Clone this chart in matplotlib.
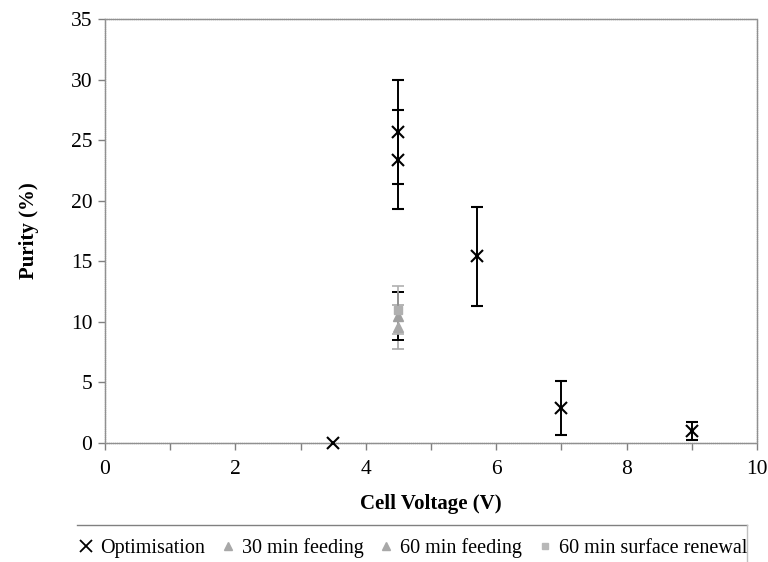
import numpy as np
import matplotlib
matplotlib.use('Agg')
import matplotlib.pyplot as plt
from matplotlib.lines import Line2D
from matplotlib.ticker import MultipleLocator

# data (nan = no error bar shown)
opt_v = [3.5, 4.5, 4.5, 5.7, 7.0, 9.0]
opt_p = [0.0, 25.7, 23.4, 15.4, 2.9, 1.0]
opt_err = [np.nan, 4.3, 4.1, 4.1, 2.25, 0.75]

feed30_v = [4.5]
feed30_p = [9.6]
feed30_err = [1.8]

feed60_v = [4.5]
feed60_p = [10.5]
feed60_err = [2.0]

renew60_v = [4.5]
renew60_p = [11.0]
renew60_err = [2.0]

plt.rcParams['font.family'] = ['Liberation Serif', 'DejaVu Serif']

fig = plt.figure(figsize=(7.68, 5.62), dpi=100)
ax = fig.add_axes([105/768, 1-443/562, (757-105)/768, (443-19)/562])

# grey series first so the optimisation crosses sit on top
ax.errorbar(feed30_v, feed30_p, yerr=feed30_err, fmt='^', color='#a8a8a8',
            ms=7, ecolor='#a8a8a8', elinewidth=1.2, capsize=4, capthick=1.2, zorder=3)
ax.errorbar(feed60_v, feed60_p, yerr=feed60_err, fmt='^', color='#a0a0a0',
            ms=7, ecolor='black', elinewidth=1.4, capsize=4.5, capthick=1.4, zorder=3)
ax.errorbar(renew60_v, renew60_p, yerr=renew60_err, fmt='s', color='#b0b0b0',
            ms=6, ecolor='#b0b0b0', elinewidth=1.2, capsize=4, capthick=1.2, zorder=3)
ax.errorbar(opt_v, opt_p, yerr=opt_err, fmt='x', color='black', ms=9, mew=1.5,
            ecolor='black', elinewidth=1.4, capsize=4.5, capthick=1.4, zorder=4,
            clip_on=False)

ax.set_xlim(0, 10)
ax.set_ylim(0, 35)
ax.xaxis.set_major_locator(MultipleLocator(2))
ax.xaxis.set_minor_locator(MultipleLocator(1))
ax.yaxis.set_major_locator(MultipleLocator(5))
ax.tick_params(axis='both', which='both', direction='out', color='#808080',
               length=5, width=1, labelsize=15.5, pad=4)
ax.tick_params(axis='x', pad=7)
for s in ax.spines.values():
    s.set_color('#909090')
    s.set_linewidth(1)
    s.set_linestyle((0, (1, 0.5)))

ax.set_xlabel('Cell Voltage (V)', fontsize=15, fontweight='bold', labelpad=11)
ax.set_ylabel('Purity (%)', fontsize=15, fontweight='bold', labelpad=23)

# legend box (clipped at the bottom like the original)
fig.add_artist(Line2D([77/768, 747/768], [1-525/562, 1-525/562],
                      transform=fig.transFigure, color='#808080', lw=1))
fig.add_artist(Line2D([747/768, 747/768], [1-525/562, 0],
                      transform=fig.transFigure, color='#c0c0c0', lw=1))

handles = [
    Line2D([], [], ls='none', marker='x', color='black', ms=9, mew=1.3),
    Line2D([], [], ls='none', marker='^', color='#a8a8a8', ms=6),
    Line2D([], [], ls='none', marker='^', color='#a8a8a8', ms=6),
    Line2D([], [], ls='none', marker='s', color='#b8b8b8', ms=5),
]
labels = ['Optimisation', '30 min feeding', '60 min feeding', '60 min surface renewal']
fig.legend(handles, labels, ncol=4, loc='center left',
           bbox_to_anchor=(78/768, 1-548/562), frameon=False, fontsize=14.5,
           handlelength=0.8, handletextpad=0.3, columnspacing=0.72,
           borderpad=0, borderaxespad=0)

fig.savefig('out.png', dpi=100)
